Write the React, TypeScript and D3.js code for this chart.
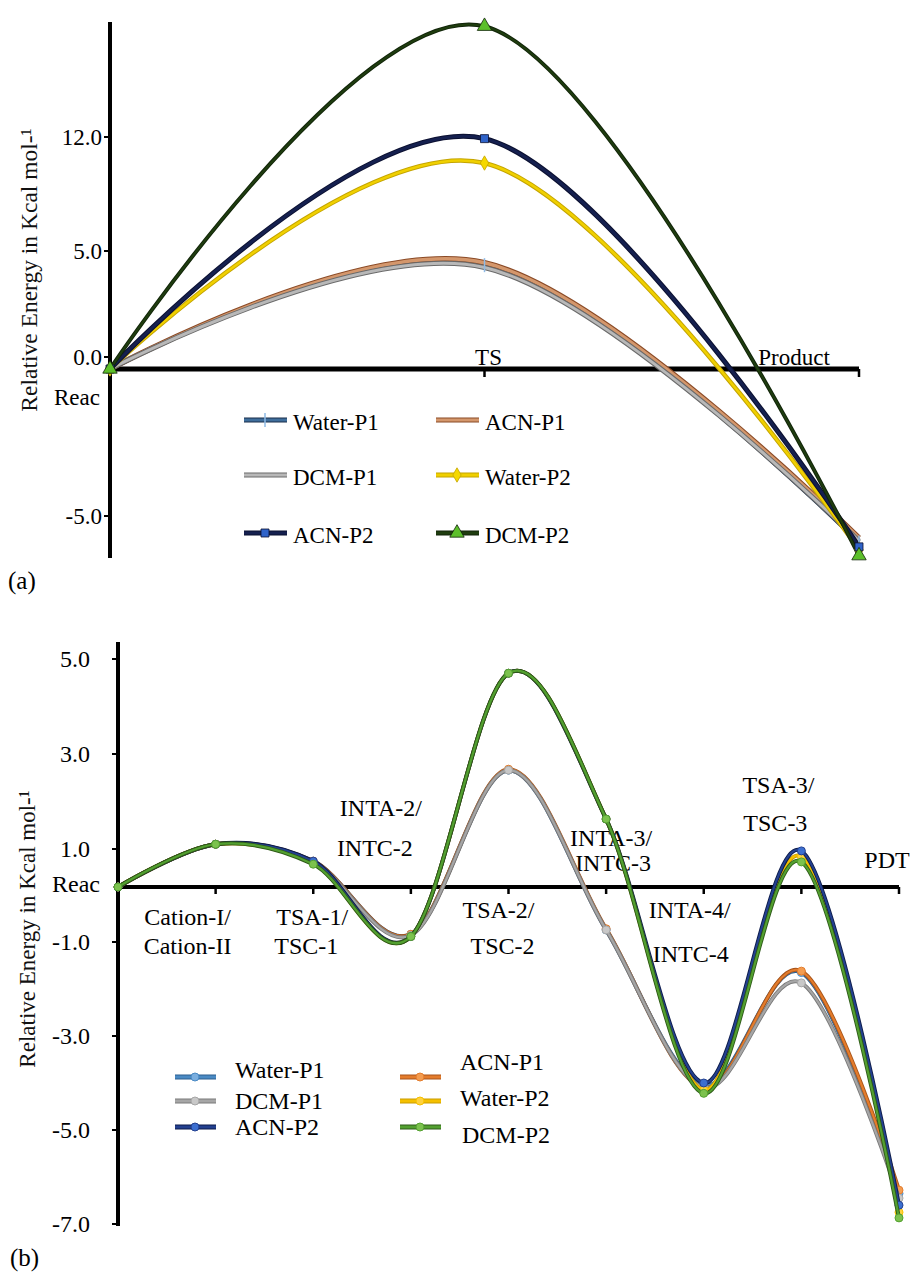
import * as d3 from "d3";

const FONT = "'Liberation Serif', 'Times New Roman', Times, serif";

// ---------- panel (a): single-step profile ----------
const stepsA = ["Reac", "TS", "Product"];
const seriesNames = ["Water-P1", "ACN-P1", "DCM-P1", "Water-P2", "ACN-P2", "DCM-P2"];
const waterP1A = [0, 4.4, -5.9];
const acnP1A = [0, 4.5, -5.75];
const dcmP1A = [0, 4.3, -5.85];
const waterP2A = [0, 10.4, -6.15];
const acnP2A = [0, 11.9, -6.05];
const dcmP2A = [0, 18.8, -6.35];
const ticksA = [12, 5, 0, -5];

// ---------- panel (b): multi-step profile ----------
const stepsB = ["Reac", "Cation", "TSA-1", "INTA-2", "TSA-2", "INTA-3", "INTA-4", "TSA-3", "PDT"];
const waterP1B = [0, 1.1, 0.68, -0.86, 2.66, -0.78, -4.05, -1.65, -6.35];
const acnP1B = [0, 1.1, 0.68, -0.86, 2.68, -0.76, -4.1, -1.62, -6.28];
const dcmP1B = [0, 1.1, 0.66, -0.88, 2.66, -0.78, -4.1, -1.87, -6.45];
const waterP2B = [0, 1.1, 0.62, -0.9, 4.7, 1.63, -4.15, 0.8, -6.75];
const acnP2B = [0, 1.1, 0.68, -0.9, 4.7, 1.63, -4.0, 0.95, -6.6];
const dcmP2B = [0, 1.1, 0.6, -0.9, 4.7, 1.63, -4.22, 0.66, -6.87];
const ticksB = [5, 3, 1, -1, -3, -5, -7];

const valuesA = [waterP1A, acnP1A, dcmP1A, waterP2A, acnP2A, dcmP2A];
const valuesB = [waterP1B, acnP1B, dcmP1B, waterP2B, acnP2B, dcmP2B];

// category labels of (b), two lines each, hand placed like the original
const labelsB: { step: string; lines: string[]; dx: number[]; y: number[] }[] = [
  { step: "Cation", lines: ["Cation-I/", "Cation-II"], dx: [-28, -28], y: [917, 946] },
  { step: "TSA-1", lines: ["TSA-1/", "TSC-1"], dx: [-1, -7], y: [917, 946] },
  { step: "INTA-2", lines: ["INTA-2/", "INTC-2"], dx: [-30, -36], y: [808, 848] },
  { step: "TSA-2", lines: ["TSA-2/", "TSC-2"], dx: [-10, -6], y: [910, 946] },
  { step: "INTA-3", lines: ["INTA-3/", "INTC-3"], dx: [5, 7], y: [838, 863] },
  { step: "INTA-4", lines: ["INTA-4/", "INTC-4"], dx: [-14, -13], y: [910, 954] },
  { step: "TSA-3", lines: ["TSA-3/", "TSC-3"], dx: [-23, -26], y: [785, 823] },
  { step: "PDT", lines: ["PDT"], dx: [-12], y: [860] },
];

const styleA = [
  { stroke: "#3f6e9c", edge: "#1b2f4a", w: 3, marker: "plus", fill: "#8fbbe6" },
  { stroke: "#d4976c", edge: "#8a4a26", w: 4, marker: "none", fill: "#d4976c" },
  { stroke: "#b8b8b8", edge: "#6a6a6a", w: 3.5, marker: "none", fill: "#b8b8b8" },
  { stroke: "#f0d000", edge: "#c4a400", w: 3, marker: "diamond", fill: "#f5d800" },
  { stroke: "#15204f", edge: "#0b1030", w: 3.5, marker: "square", fill: "#2f63c9" },
  { stroke: "#1f3d0f", edge: "#12250a", w: 2.5, marker: "triangle", fill: "#5cbf2a" },
];

const styleB = [
  { stroke: "#4a8ac4", edge: "#2d5f8f", fill: "#7aaedf" },
  { stroke: "#e47c2c", edge: "#a9551a", fill: "#f39c50" },
  { stroke: "#a6a6a6", edge: "#7a7a7a", fill: "#c8c8c8" },
  { stroke: "#f5c000", edge: "#c99c00", fill: "#ffd23f" },
  { stroke: "#23408f", edge: "#0d1b4a", fill: "#3c6fd0" },
  { stroke: "#53a030", edge: "#2e5a18", fill: "#7cc24e" },
];

const xA = d3.scalePoint<string>().domain(stepsA).range([110, 859]);
const yA = d3.scaleLinear().domain([-5, 0, 5, 12]).range([516, 369, 251, 137]);
const xB = d3.scalePoint<string>().domain(stepsB).range([118, 899]);
const yB = d3.scaleLinear().domain([-7, -1, 0, 1, 5]).range([1224, 942, 887, 849, 659]);

const lineA = d3
  .line<number>()
  .x((_, i) => xA(stepsA[i]) as number)
  .y((d) => yA(d))
  .curve(d3.curveCardinal.tension(0));

const lineB = d3
  .line<number>()
  .x((_, i) => xB(stepsB[i]) as number)
  .y((d) => yB(d))
  .curve(d3.curveCardinal.tension(0));

function Marker({ kind, x, y, fill, edge }: { kind: string; x: number; y: number; fill: string; edge: string }) {
  if (kind === "none") return null;
  if (kind === "plus")
    return <line x1={x} x2={x} y1={y - 7} y2={y + 7} stroke={fill} strokeWidth={1.5} />;
  const type =
    kind === "square" ? d3.symbolSquare : kind === "triangle" ? d3.symbolTriangle : d3.symbolDiamond;
  const size = kind === "triangle" ? 90 : kind === "square" ? 64 : 60;
  return (
    <path
      d={d3.symbol().type(type).size(size)() as string}
      transform={`translate(${x},${y})`}
      fill={fill}
      stroke={edge}
      strokeWidth={0.8}
    />
  );
}

export default function App() {
  const legendA = seriesNames.map((name, i) => ({
    name,
    x: i % 2 === 0 ? 244 : 436,
    y: [420, 475, 533][Math.floor(i / 2)],
  }));
  const legendB = seriesNames.map((name, i) => ({
    name,
    x: i % 2 === 0 ? 175 : 400,
    y: [1077, 1101, 1127][Math.floor(i / 2)],
    dy: [-7, -15, 0, -3, 0, 8][i],
    tx: i === 5 ? 62 : 60,
  }));

  return (
    <svg
      width={911}
      height={1275}
      style={{ position: "absolute", left: 0, top: 0, background: "#fff", fontFamily: FONT }}
    >
      {/* ================= panel (a) ================= */}
      <g>
        <text
          transform="translate(29,270) rotate(-90)"
          textAnchor="middle"
          dominantBaseline="central"
          fontSize={23.5}
          fill="#111"
        >
          Relative Energy in Kcal mol-¹
        </text>
        {ticksA.map((t) => {
          const shift = t === 0 ? -12 : 0;
          return (
            <g key={t}>
              <line x1={104} x2={110} y1={yA(t) + shift} y2={yA(t) + shift} stroke="#000" strokeWidth={2} />
              <text x={102} y={yA(t) + shift} textAnchor="end" dominantBaseline="central" fontSize={23}>
                {t.toFixed(1)}
              </text>
            </g>
          );
        })}
        <line x1={110} x2={110} y1={22} y2={558} stroke="#000" strokeWidth={4} />
        <line x1={110} x2={859} y1={yA(0)} y2={yA(0)} stroke="#000" strokeWidth={5} />
        {stepsA.slice(1).map((s) => (
          <line key={s} x1={xA(s)} x2={xA(s)} y1={yA(0)} y2={yA(0) + 8} stroke="#000" strokeWidth={2.5} />
        ))}
        <text x={xA("TS")! + 4} y={357} textAnchor="middle" dominantBaseline="central" fontSize={23}>
          TS
        </text>
        <text x={794} y={357} textAnchor="middle" dominantBaseline="central" fontSize={23}>
          Product
        </text>
        <text x={100} y={397} textAnchor="end" dominantBaseline="central" fontSize={23}>
          Reac
        </text>

        {valuesA.map((vals, i) => (
          <g key={seriesNames[i]}>
            <path d={lineA(vals) as string} fill="none" stroke={styleA[i].edge} strokeWidth={styleA[i].w + 1.5} />
            <path d={lineA(vals) as string} fill="none" stroke={styleA[i].stroke} strokeWidth={styleA[i].w - 0.5} />
          </g>
        ))}
        {valuesA.map((vals, i) =>
          vals.map((v, j) => (
            <Marker
              key={`${i}-${j}`}
              kind={styleA[i].marker}
              x={xA(stepsA[j]) as number}
              y={yA(v)}
              fill={styleA[i].fill}
              edge={styleA[i].edge}
            />
          ))
        )}

        {legendA.map((l, i) => (
          <g key={l.name}>
            <line x1={l.x} x2={l.x + 43} y1={l.y} y2={l.y} stroke={styleA[i].edge} strokeWidth={5} />
            <line x1={l.x} x2={l.x + 43} y1={l.y} y2={l.y} stroke={styleA[i].stroke} strokeWidth={3} />
            <Marker kind={styleA[i].marker} x={l.x + 21} y={l.y} fill={styleA[i].fill} edge={styleA[i].edge} />
            <text x={l.x + 49} y={l.y + 2} dominantBaseline="central" fontSize={23}>
              {l.name}
            </text>
          </g>
        ))}
        <text x={8} y={580} dominantBaseline="central" fontSize={25}>
          (a)
        </text>
      </g>

      {/* ================= panel (b) ================= */}
      <g>
        <text
          transform="translate(27,929) rotate(-90)"
          textAnchor="middle"
          dominantBaseline="central"
          fontSize={23}
          fill="#111"
        >
          Relative Energy in Kcal mol-¹
        </text>
        {ticksB.map((t) => (
          <g key={t}>
            <line x1={112} x2={118} y1={yB(t)} y2={yB(t)} stroke="#000" strokeWidth={2} />
            <text x={90} y={yB(t)} textAnchor="end" dominantBaseline="central" fontSize={24}>
              {t.toFixed(1)}
            </text>
          </g>
        ))}
        <line x1={118} x2={118} y1={642} y2={1226} stroke="#000" strokeWidth={4} />
        <line x1={118} x2={899} y1={yB(0)} y2={yB(0)} stroke="#000" strokeWidth={4} />
        {stepsB.slice(1).map((s) => (
          <line key={s} x1={xB(s)} x2={xB(s)} y1={yB(0)} y2={yB(0) + 7} stroke="#000" strokeWidth={2.5} />
        ))}
        <text x={100} y={884} textAnchor="end" dominantBaseline="central" fontSize={24}>
          Reac
        </text>
        {labelsB.map((l) =>
          l.lines.map((t, k) => (
            <text
              key={t}
              x={(xB(l.step) as number) + l.dx[k]}
              y={l.y[k]}
              textAnchor="middle"
              dominantBaseline="central"
              fontSize={24}
            >
              {t}
            </text>
          ))
        )}

        {valuesB.map((vals, i) => (
          <g key={seriesNames[i]}>
            <path d={lineB(vals) as string} fill="none" stroke={styleB[i].edge} strokeWidth={4} />
            <path d={lineB(vals) as string} fill="none" stroke={styleB[i].stroke} strokeWidth={2.2} />
            {vals.map((v, j) => (
              <circle
                key={j}
                cx={xB(stepsB[j])}
                cy={yB(v)}
                r={4}
                fill={styleB[i].fill}
                stroke={styleB[i].stroke}
                strokeWidth={1}
              />
            ))}
          </g>
        ))}

        {legendB.map((l, i) => (
          <g key={l.name}>
            <line x1={l.x} x2={l.x + 41} y1={l.y} y2={l.y} stroke={styleB[i].edge} strokeWidth={5} />
            <line x1={l.x} x2={l.x + 41} y1={l.y} y2={l.y} stroke={styleB[i].stroke} strokeWidth={3} />
            <circle cx={l.x + 20} cy={l.y} r={4} fill={styleB[i].fill} stroke={styleB[i].stroke} />
            <text x={l.x + l.tx} y={l.y + l.dy} dominantBaseline="central" fontSize={24}>
              {l.name}
            </text>
          </g>
        ))}
        <text x={10} y={1257} dominantBaseline="central" fontSize={25}>
          (b)
        </text>
      </g>
    </svg>
  );
}
